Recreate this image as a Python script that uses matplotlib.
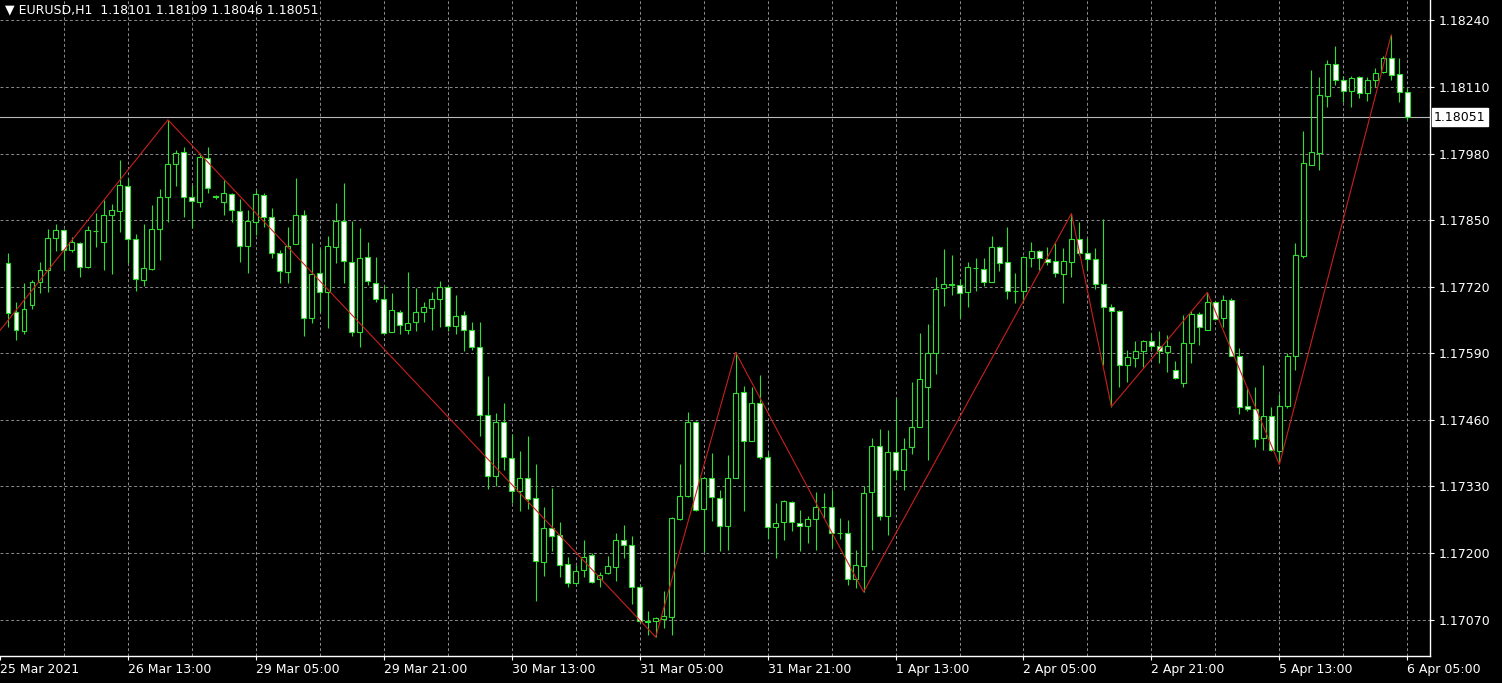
import matplotlib.pyplot as plt
import matplotlib.transforms as mtransforms
import numpy as np
import pandas as pd

symbol = "EURUSD,H1"

# hourly bars, 25 Mar 2021 22:00 .. 6 Apr 2021 05:00 (weekend skipped)
opens = [
    1.17767, 1.17670, 1.17633, 1.17685, 1.17730, 1.17753, 1.17816, 1.17831, 1.17792, 1.17806,
    1.17759, 1.17828, 1.17808, 1.17861, 1.17867, 1.17917, 1.17814, 1.17734, 1.17755, 1.17833,
    1.17896, 1.17960, 1.17984, 1.17896, 1.17886, 1.17972, 1.17897, 1.17886, 1.17902, 1.17867,
    1.17800, 1.17847, 1.17900, 1.17857, 1.17785, 1.17748, 1.17804, 1.17861, 1.17660, 1.17746,
    1.17709, 1.17798, 1.17849, 1.17769, 1.17631, 1.17779, 1.17728, 1.17697, 1.17631, 1.17670,
    1.17636, 1.17652, 1.17670, 1.17679, 1.17697, 1.17720, 1.17644, 1.17664, 1.17635, 1.17603,
    1.17469, 1.17350, 1.17455, 1.17385, 1.17321, 1.17346, 1.17307, 1.17182, 1.17248, 1.17235,
    1.17178, 1.17141, 1.17167, 1.17196, 1.17149, 1.17161, 1.17172, 1.17225, 1.17215, 1.17133,
    1.17067, 1.17067, 1.17071, 1.17075, 1.17266, 1.17311, 1.17455, 1.17287, 1.17346, 1.17307,
    1.17252, 1.17346, 1.17514, 1.17418, 1.17494, 1.17387, 1.17250, 1.17260, 1.17299, 1.17258,
    1.17252, 1.17266, 1.17289, 1.17289, 1.17239, 1.17239, 1.17149, 1.17174, 1.17319, 1.17410,
    1.17272, 1.17397, 1.17363, 1.17408, 1.17447, 1.17525, 1.17590, 1.17718, 1.17726, 1.17724,
    1.17709, 1.17757, 1.17755, 1.17730, 1.17798, 1.17769, 1.17711, 1.17711, 1.17777, 1.17789,
    1.17775, 1.17771, 1.17744, 1.17769, 1.17814, 1.17785, 1.17775, 1.17726, 1.17681, 1.17672,
    1.17568, 1.17580, 1.17594, 1.17615, 1.17605, 1.17592, 1.17558, 1.17533, 1.17611, 1.17666,
    1.17636, 1.17691, 1.17660, 1.17695, 1.17584, 1.17488, 1.17482, 1.17424, 1.17467, 1.17399,
    1.17488, 1.17584, 1.17781, 1.17958, 1.17982, 1.18093, 1.18155, 1.18124, 1.18103, 1.18130,
    1.18099, 1.18124, 1.18140, 1.18167, 1.18136, 1.18101,
]
highs = [
    1.17785, 1.17691, 1.17728, 1.17734, 1.17769, 1.17833, 1.17843, 1.17833, 1.17818, 1.17808,
    1.17839, 1.17865, 1.17890, 1.17882, 1.17968, 1.17933, 1.17824, 1.17843, 1.17880, 1.17911,
    1.18046, 1.17987, 1.17993, 1.17919, 1.17982, 1.17993, 1.17900, 1.17929, 1.17904, 1.17892,
    1.17869, 1.17909, 1.17904, 1.17874, 1.17792, 1.17837, 1.17933, 1.17869, 1.17806, 1.17794,
    1.17820, 1.17884, 1.17923, 1.17849, 1.17835, 1.17808, 1.17779, 1.17724, 1.17707, 1.17675,
    1.17748, 1.17718, 1.17691, 1.17709, 1.17732, 1.17722, 1.17703, 1.17672, 1.17652, 1.17652,
    1.17545, 1.17473, 1.17494, 1.17432, 1.17399, 1.17428, 1.17373, 1.17289, 1.17328, 1.17260,
    1.17192, 1.17176, 1.17225, 1.17200, 1.17163, 1.17194, 1.17239, 1.17254, 1.17233, 1.17137,
    1.17087, 1.17075, 1.17126, 1.17270, 1.17373, 1.17475, 1.17457, 1.17348, 1.17395, 1.17323,
    1.17391, 1.17592, 1.17527, 1.17525, 1.17547, 1.17397, 1.17297, 1.17303, 1.17301, 1.17284,
    1.17272, 1.17319, 1.17317, 1.17324, 1.17268, 1.17264, 1.17206, 1.17330, 1.17424, 1.17443,
    1.17440, 1.17502, 1.17424, 1.17535, 1.17629, 1.17648, 1.17740, 1.17794, 1.17783, 1.17736,
    1.17769, 1.17777, 1.17777, 1.17820, 1.17800, 1.17837, 1.17746, 1.17781, 1.17808, 1.17792,
    1.17798, 1.17806, 1.17796, 1.17863, 1.17847, 1.17816, 1.17796, 1.17853, 1.17687, 1.17674,
    1.17596, 1.17615, 1.17617, 1.17629, 1.17633, 1.17625, 1.17576, 1.17664, 1.17672, 1.17670,
    1.17709, 1.17693, 1.17703, 1.17699, 1.17601, 1.17525, 1.17525, 1.17568, 1.17486, 1.17510,
    1.17590, 1.17806, 1.18025, 1.18143, 1.18130, 1.18163, 1.18190, 1.18132, 1.18132, 1.18132,
    1.18130, 1.18147, 1.18171, 1.18212, 1.18167, 1.18109,
]
lows = [
    1.17642, 1.17617, 1.17627, 1.17677, 1.17707, 1.17709, 1.17789, 1.17753, 1.17787, 1.17740,
    1.17757, 1.17798, 1.17753, 1.17744, 1.17826, 1.17767, 1.17711, 1.17722, 1.17753, 1.17773,
    1.17847, 1.17917, 1.17857, 1.17835, 1.17876, 1.17904, 1.17892, 1.17861, 1.17847, 1.17769,
    1.17746, 1.17822, 1.17837, 1.17777, 1.17728, 1.17728, 1.17804, 1.17623, 1.17650, 1.17670,
    1.17640, 1.17767, 1.17728, 1.17623, 1.17603, 1.17724, 1.17691, 1.17627, 1.17631, 1.17627,
    1.17627, 1.17633, 1.17652, 1.17636, 1.17642, 1.17633, 1.17627, 1.17594, 1.17597, 1.17428,
    1.17326, 1.17330, 1.17363, 1.17297, 1.17282, 1.17287, 1.17106, 1.17155, 1.17204, 1.17153,
    1.17133, 1.17139, 1.17153, 1.17141, 1.17133, 1.17159, 1.17145, 1.17190, 1.17100, 1.17065,
    1.17040, 1.17036, 1.17053, 1.17040, 1.17264, 1.17309, 1.17283, 1.17202, 1.17262, 1.17204,
    1.17206, 1.17346, 1.17282, 1.17418, 1.17383, 1.17227, 1.17190, 1.17225, 1.17243, 1.17204,
    1.17219, 1.17206, 1.17268, 1.17211, 1.17227, 1.17137, 1.17131, 1.17124, 1.17206, 1.17264,
    1.17235, 1.17342, 1.17323, 1.17393, 1.17447, 1.17381, 1.17549, 1.17683, 1.17703, 1.17660,
    1.17681, 1.17711, 1.17722, 1.17730, 1.17750, 1.17697, 1.17689, 1.17691, 1.17759, 1.17753,
    1.17763, 1.17740, 1.17689, 1.17740, 1.17783, 1.17752, 1.17715, 1.17568, 1.17486, 1.17525,
    1.17535, 1.17564, 1.17564, 1.17597, 1.17572, 1.17553, 1.17539, 1.17525, 1.17572, 1.17607,
    1.17636, 1.17656, 1.17642, 1.17584, 1.17471, 1.17477, 1.17408, 1.17401, 1.17399, 1.17373,
    1.17484, 1.17557, 1.17777, 1.17958, 1.17948, 1.18071, 1.18114, 1.18081, 1.18071, 1.18089,
    1.18083, 1.18110, 1.18138, 1.18124, 1.18081, 1.18046,
]
closes = [
    1.17668, 1.17636, 1.17677, 1.17730, 1.17753, 1.17816, 1.17831, 1.17791, 1.17808, 1.17759,
    1.17830, 1.17828, 1.17861, 1.17869, 1.17919, 1.17814, 1.17736, 1.17757, 1.17833, 1.17896,
    1.17960, 1.17982, 1.17896, 1.17888, 1.17974, 1.17913, 1.17896, 1.17904, 1.17869, 1.17800,
    1.17849, 1.17902, 1.17857, 1.17785, 1.17750, 1.17800, 1.17861, 1.17660, 1.17744, 1.17709,
    1.17800, 1.17849, 1.17771, 1.17631, 1.17777, 1.17732, 1.17697, 1.17629, 1.17674, 1.17646,
    1.17650, 1.17670, 1.17681, 1.17697, 1.17720, 1.17644, 1.17662, 1.17636, 1.17603, 1.17469,
    1.17350, 1.17455, 1.17387, 1.17321, 1.17346, 1.17305, 1.17184, 1.17248, 1.17233, 1.17176,
    1.17141, 1.17165, 1.17192, 1.17143, 1.17157, 1.17174, 1.17225, 1.17215, 1.17133, 1.17067,
    1.17066, 1.17073, 1.17077, 1.17268, 1.17311, 1.17455, 1.17285, 1.17346, 1.17309, 1.17252,
    1.17346, 1.17512, 1.17418, 1.17494, 1.17387, 1.17250, 1.17258, 1.17301, 1.17260, 1.17252,
    1.17266, 1.17289, 1.17289, 1.17239, 1.17239, 1.17149, 1.17176, 1.17317, 1.17410, 1.17272,
    1.17397, 1.17363, 1.17404, 1.17447, 1.17539, 1.17590, 1.17716, 1.17726, 1.17724, 1.17707,
    1.17759, 1.17757, 1.17730, 1.17798, 1.17767, 1.17711, 1.17711, 1.17779, 1.17789, 1.17777,
    1.17769, 1.17746, 1.17771, 1.17814, 1.17785, 1.17775, 1.17726, 1.17681, 1.17672, 1.17568,
    1.17582, 1.17594, 1.17615, 1.17605, 1.17594, 1.17605, 1.17541, 1.17611, 1.17666, 1.17642,
    1.17691, 1.17658, 1.17695, 1.17584, 1.17486, 1.17482, 1.17422, 1.17467, 1.17401, 1.17488,
    1.17584, 1.17783, 1.17962, 1.17984, 1.18095, 1.18155, 1.18124, 1.18103, 1.18128, 1.18099,
    1.18124, 1.18138, 1.18167, 1.18134, 1.18101, 1.18051,
]

# zigzag pivots (bar numbers), plus the last pivot before the visible range
zz_high_bars = [20, 91, 133, 150, 173]
zz_low_bars = [81, 107, 138, 159]
zz_prev_bar = -4
zz_prev_price = 1.17576

price_ticks = [1.17070, 1.17200, 1.17330, 1.17460, 1.17590,
               1.17720, 1.17850, 1.17980, 1.18110, 1.18240]

GREEN = '#2ee02e'
GRID = '#8c8c8c'


def bar_times():
    # one bar before the first visible candle carries the first date label
    t = pd.date_range('2021-03-25 21:00', '2021-04-06 05:00', freq='h')
    return t[t.dayofweek < 5]


def time_label(t, first):
    if first:
        return f"{t.day} {t:%b %Y}"
    return f"{t.day} {t:%b %H:%M}"


n = len(opens)
idx = np.arange(n)
o = np.array(opens)
h = np.array(highs)
l = np.array(lows)
c = np.array(closes)

fig = plt.figure(figsize=(15.02, 6.83), dpi=100, facecolor='black')
ax = fig.add_axes([0, 27 / 683, 1430 / 1502, 656 / 683], facecolor='black')

# grid
for p in price_ticks:
    ax.axhline(p, color=GRID, lw=0.7, ls=(0, (3, 2.5)), zorder=0)
for b in range(7, n, 8):
    ax.axvline(b, color=GRID, lw=0.7, ls=(0, (3, 2.5)), zorder=0)

# current price line
ax.axhline(c[-1], color='#b9b9b9', lw=0.8, zorder=1)

# candles
ax.vlines(idx, l, h, color=GREEN, lw=0.8, zorder=2)
bottoms = np.minimum(o, c)
heights = np.abs(c - o)
fills = ['black' if cc > oo else 'white' for oo, cc in zip(o, c)]
ax.bar(idx, heights, width=0.62, bottom=bottoms, color=fills,
       edgecolor=GREEN, linewidth=0.8, zorder=3)

# zigzag
pivots = [(b, h[b]) for b in zz_high_bars] + [(b, l[b]) for b in zz_low_bars]
pivots.sort()
zz_x = [zz_prev_bar] + [p[0] for p in pivots]
zz_y = [zz_prev_price] + [p[1] for p in pivots]
ax.plot(zz_x, zz_y, color='#c8201e', lw=0.8, zorder=4)

ax.set_xlim(-0.687, 177.84)
ax.set_ylim(1.16999, 1.18280)

for s in ['left', 'top']:
    ax.spines[s].set_visible(False)
for s in ['bottom', 'right']:
    ax.spines[s].set_color('white')
    ax.spines[s].set_linewidth(1.0)

# price axis
ax.yaxis.tick_right()
ax.set_yticks(price_ticks)
ax.set_yticklabels([f"{p:.5f}" for p in price_ticks])
ax.tick_params(axis='y', colors='white', length=3, width=0.8, labelsize=9, pad=3)

# time axis
times = bar_times()
lab_bars = list(range(-1, n, 16))
ax.set_xticks(lab_bars)
ax.set_xticklabels([time_label(times[b + 1], b == -1) for b in lab_bars])
ax.tick_params(axis='x', colors='white', length=3, width=0.8, labelsize=9, pad=2)
for t in ax.get_xticklabels():
    t.set_horizontalalignment('left')

# last price tag
trans = mtransforms.blended_transform_factory(ax.transAxes, ax.transData)
ax.text(1.0028, c[-1], f"{c[-1]:.5f}", transform=trans, ha='left', va='center',
        color='black', fontsize=9, clip_on=False,
        bbox=dict(boxstyle='square,pad=0.2', fc='white', ec='white'))

fig.text(5 / 1502, 1 - 10 / 683,
         f"\u25bc {symbol}  {o[-1]:.5f} {h[-1]:.5f} {l[-1]:.5f} {c[-1]:.5f}",
         color='white', fontsize=9, va='center', ha='left')

fig.savefig('out.png', dpi=100, facecolor='black')
